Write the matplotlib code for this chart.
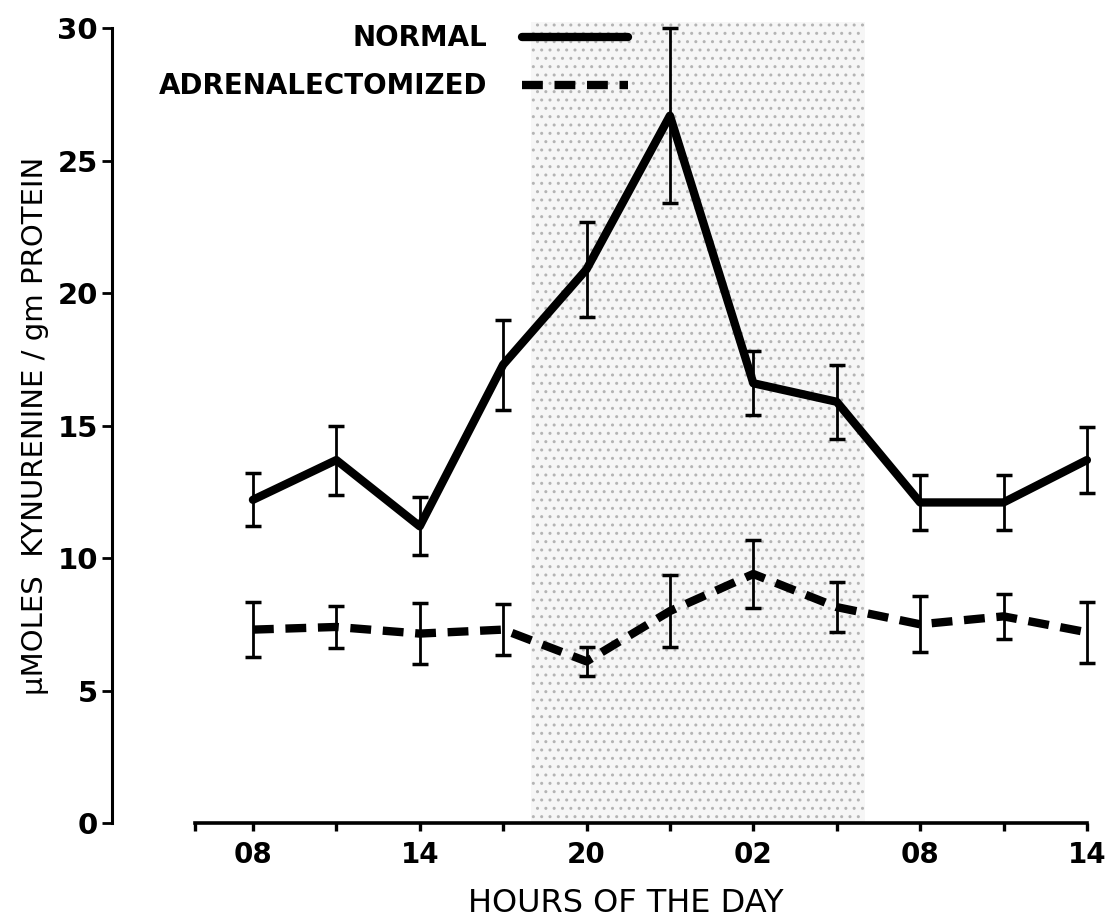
import numpy as np
import matplotlib
matplotlib.use("Agg")
import matplotlib.pyplot as plt

# sampling times in hours from 08:00 of day 1 (every 3 h)
hours = [8, 11, 14, 17, 20, 23, 26, 29, 32, 35, 38]
hour_ticks = [8, 14, 20, 26, 32, 38]
hour_labels = ["08", "14", "20", "02", "08", "14"]
minor_hours = [11, 17, 23, 29, 35]

normal = [12.2, 13.7, 11.2, 17.3, 20.9, 26.7, 16.6, 15.9, 12.1, 12.1, 13.7]
normal_err = [1.0, 1.3, 1.1, 1.7, 1.8, 3.3, 1.2, 1.4, 1.05, 1.05, 1.25]

adx = [7.3, 7.4, 7.15, 7.3, 6.1, 8.0, 9.4, 8.15, 7.5, 7.8, 7.2]
adx_err = [1.05, 0.8, 1.15, 0.95, 0.55, 1.35, 1.3, 0.95, 1.05, 0.85, 1.15]

dark_start, dark_end = 18, 30
y_ticks = [0, 5, 10, 15, 20, 25, 30]

plt.rcParams["font.family"] = ["DejaVu Sans"]
plt.rcParams["font.weight"] = "bold"
plt.rcParams["hatch.linewidth"] = 1.0

fig = plt.figure(figsize=(11.06, 9.19), dpi=100)
ax = fig.add_axes([112 / 1106, 96 / 919, 988.8 / 1106, 808 / 919])
ax.set_xlim(2.93, 38.5)
ax.set_ylim(0, 30.5)

# dark period
ax.axvspan(dark_start, dark_end, ymin=0, ymax=30.25 / 30.5, facecolor="#f6f6f6",
           edgecolor="#b4b4b4", hatch="..", linewidth=0, zorder=0)

e1 = ax.errorbar(hours, normal, yerr=normal_err, color="black", lw=6, capsize=5.5,
                 elinewidth=2.0, capthick=2.5, solid_capstyle="round", zorder=3,
                 label="NORMAL")
e2 = ax.errorbar(hours, adx, yerr=adx_err, color="black", lw=6, capsize=5.5,
                 elinewidth=2.0, capthick=2.5, dashes=(2.5, 1.4), zorder=3,
                 label="ADRENALECTOMIZED")

ax.spines["top"].set_visible(False)
ax.spines["right"].set_visible(False)
ax.spines["left"].set_bounds(0, 30)
ax.spines["bottom"].set_bounds(5.9, 38)
ax.spines["left"].set_linewidth(2.2)
ax.spines["bottom"].set_linewidth(2.6)

ax.set_yticks(y_ticks)
ax.set_xticks(hour_ticks)
ax.set_xticklabels(hour_labels)
ax.set_xticks(minor_hours + [5.9], minor=True)
ax.tick_params(axis="y", direction="out", length=7, width=2, pad=3, labelsize=21)
ax.tick_params(axis="x", which="both", direction="out", length=6, width=2.4, pad=7, labelsize=20)

ax.set_ylabel("\u03bcMOLES  KYNURENINE / gm PROTEIN", fontsize=21, va="center",
              fontweight="normal")
ax.yaxis.set_label_coords((35 - 112) / 988.8, 15 / 30.5)
ax.set_xlabel("HOURS OF THE DAY", fontsize=23, va="center", fontweight="normal")
ax.xaxis.set_label_coords((626 - 112) / 988.8, -(904 - 823) / 808)

ax.legend(handles=[e1[0], e2[0]], labels=["NORMAL", "ADRENALECTOMIZED"],
          loc="center right", bbox_to_anchor=((628 - 112) / 988.8, (823 - 62.5) / 808),
          markerfirst=False, frameon=False, prop={"size": 20, "weight": "bold"},
          handlelength=3.8, handletextpad=1.25, labelspacing=0.72, borderpad=0,
          borderaxespad=0)

fig.savefig("out.png", dpi=100)
